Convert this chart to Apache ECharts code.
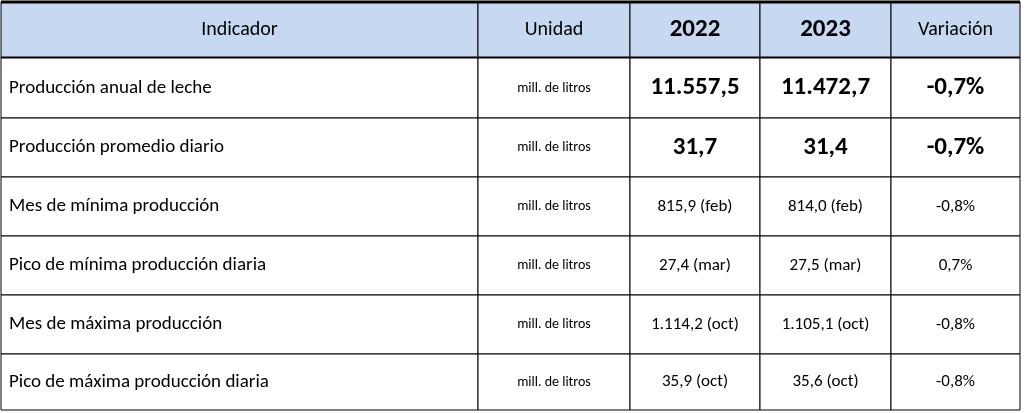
<!DOCTYPE html>
<head>
  <script src="https://cdn.jsdelivr.net/npm/echarts@6/dist/echarts.min.js"></script>
</head>
<body style="margin:0">
  <div id="chart" style="width:1024px;height:413px;"></div>
  <script>
    var header = ['Indicador', 'Unidad', '2022', '2023', 'Variación'];
    var indicators = ['Producción anual de leche', 'Producción promedio diario', 'Mes de mínima producción',
      'Pico de mínima producción diaria', 'Mes de máxima producción', 'Pico de máxima producción diaria'];
    var unit = 'mill. de litros';
    var values2022 = ['11.557,5', '31,7', '815,9 (feb)', '27,4 (mar)', '1.114,2 (oct)', '35,9 (oct)'];
    var values2023 = ['11.472,7', '31,4', '814,0 (feb)', '27,5 (mar)', '1.105,1 (oct)', '35,6 (oct)'];
    var variation = ['-0,7%', '-0,7%', '-0,8%', '0,7%', '-0,8%', '-0,8%'];
    var boldRows = [0, 1];

    var colEdges = [1, 478, 630, 760, 891, 1020];
    var rowEdges = [2, 58, 118, 177, 236, 295, 354, 410];
    var FONT = 'Carlito, "Liberation Sans Narrow", Lato, sans-serif';

    var cells = [];
    header.forEach(function (h, c) { cells.push([c, 0, h]); });
    indicators.forEach(function (name, i) {
      [name, unit, values2022[i], values2023[i], variation[i]].forEach(function (v, c) {
        cells.push([c, i + 1, v]);
      });
    });

    function styleFor(c, r) {
      if (r === 0) return { size: (c === 2 || c === 3) ? 25 : 20, weight: (c === 2 || c === 3) ? 'bold' : 'normal' };
      if (c === 0) return { size: 19, weight: 'normal' };
      if (c === 1) return { size: 14, weight: 'normal', spacing: 1 };
      if (boldRows.indexOf(r - 1) >= 0) return { size: 25, weight: 'bold' };
      return { size: 17, weight: 'normal' };
    }

    var chart = echarts.init(document.getElementById('chart'));
    chart.setOption({
      animation: false,
      backgroundColor: '#fff',
      grid: { left: 0, right: 0, top: 0, bottom: 0 },
      xAxis: { type: 'value', min: 0, max: 1024, show: false },
      yAxis: { type: 'value', min: 0, max: 413, inverse: true, show: false },
      series: [{
        type: 'custom',
        data: cells,
        renderItem: function (params, api) {
          var c = api.value(0), r = api.value(1);
          var p0 = api.coord([colEdges[c], rowEdges[r]]);
          var p1 = api.coord([colEdges[c + 1], rowEdges[r + 1]]);
          var st = styleFor(c, r);
          var left = c === 0 && r > 0;
          var children = [{
            type: 'rect',
            shape: { x: p0[0], y: p0[1], width: p1[0] - p0[0], height: p1[1] - p0[1] },
            style: { fill: r === 0 ? '#c6d9f0' : '#fff', stroke: '#000', lineWidth: 1 }
          }, {
            type: 'text',
            x: left ? p0[0] + 8 : (p0[0] + p1[0]) / 2,
            y: (p0[1] + p1[1]) / 2,
            style: {
              text: cells[params.dataIndex][2],
              fill: '#000',
              font: st.weight + ' ' + st.size + 'px ' + FONT,
              align: left ? 'left' : 'center',
              verticalAlign: 'middle'
            }
          }];
          if (r === 0) {
            children.push({ type: 'line', shape: { x1: p0[0], y1: p0[1], x2: p1[0], y2: p0[1] }, style: { stroke: '#000', lineWidth: 3 } });
            children.push({ type: 'line', shape: { x1: p0[0], y1: p1[1], x2: p1[0], y2: p1[1] }, style: { stroke: '#000', lineWidth: 3 } });
          }
          return { type: 'group', children: children };
        }
      }]
    });
  </script>
</body>
